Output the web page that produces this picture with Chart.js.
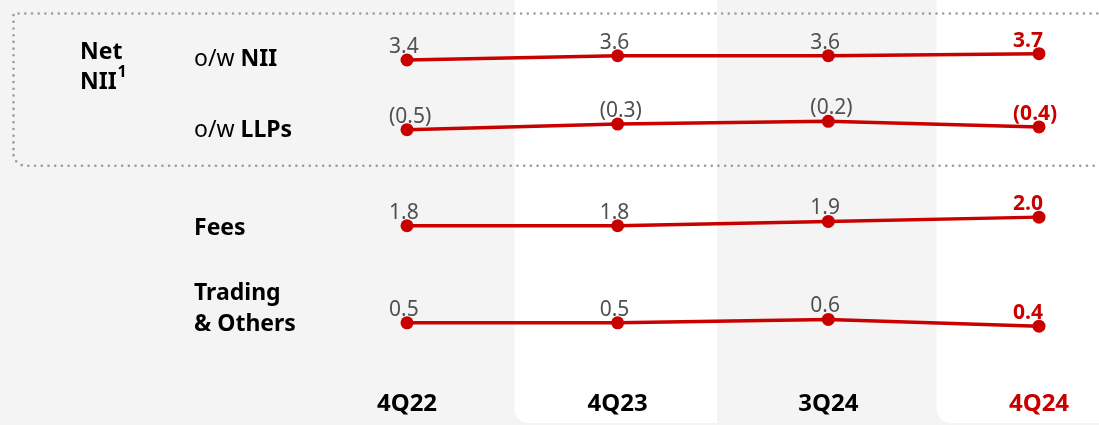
<!DOCTYPE html>
<html>
<head>
<meta charset="utf-8">
<script src="https://cdn.jsdelivr.net/npm/chart.js@4/dist/chart.umd.min.js"></script>
<style>
  html, body { margin: 0; padding: 0; background: #f4f4f4; }
  canvas { display: block; }
</style>
</head>
<body>
<canvas id="revenueChart" width="1099" height="425"></canvas>
<script>
// Datos del gráfico
const quarters = ["4Q22", "4Q23", "3Q24", "4Q24"];
const niiValues = [3.4, 3.6, 3.6, 3.7];
const llpValues = [-0.5, -0.3, -0.2, -0.4];
const feesValues = [1.8, 1.8, 1.9, 2.0];
const tradingValues = [0.5, 0.5, 0.6, 0.4];

const COLORS = {
    red: "#c80000",
    label: "#505050",
    text: "#000000",
    bg: "#f4f4f4",
    panel: "#ffffff",
    dots: "#9a9a9a"
};

const FONT = "'Noto Sans', 'Open Sans', sans-serif";
const AREA_TOP = 0;
const AREA_BOTTOM = 370;
const X_AXIS_HEIGHT = 425 - AREA_BOTTOM;

// Cada fila tiene su propio eje oculto: valor de referencia, pixel y escala
function rowAxis(refValue, refPx, pxPerUnit) {
    const max = refValue + (refPx - AREA_TOP) / pxPerUnit;
    const min = max - (AREA_BOTTOM - AREA_TOP) / pxPerUnit;
    return { display: false, min: min, max: max };
}

function fmt(v) {
    const s = Math.abs(v).toFixed(1);
    return v < 0 ? "(" + s + ")" : s;
}

function makeSet(values, axisId) {
    return {
        data: values,
        yAxisID: axisId,
        borderColor: COLORS.red,
        backgroundColor: COLORS.red,
        borderWidth: 3.5,
        pointRadius: 6.5,
        pointHoverRadius: 6.5,
        pointBackgroundColor: COLORS.red,
        pointBorderWidth: 0,
        tension: 0,
        clip: false,
        fill: false
    };
}

// Fondo gris, paneles blancos y recuadro punteado
const backgroundPlugin = {
    id: "backgroundPlugin",
    beforeDraw(chart) {
        const ctx = chart.ctx;
        const x = chart.scales.x;
        const W = chart.width, H = chart.height;
        ctx.save();
        ctx.fillStyle = COLORS.bg;
        ctx.fillRect(0, 0, W, H);

        const px = quarters.map((q, i) => x.getPixelForValue(i));
        const mid = i => (px[i] + px[i + 1]) / 2;
        ctx.fillStyle = COLORS.panel;
        [[mid(0) + 2, mid(1) - 6], [mid(2) + 3, W + 20]].forEach(([l, r]) => {
            ctx.beginPath();
            ctx.roundRect(l, -20, r - l, 443, [0, 0, 0, 14]);
            ctx.fill();
        });

        // recuadro punteado (Net NII)
        ctx.strokeStyle = COLORS.dots;
        ctx.lineWidth = 2.6;
        ctx.lineCap = "round";
        ctx.setLineDash([0, 6.7]);
        ctx.beginPath();
        ctx.moveTo(W + 5, 13.5);
        ctx.lineTo(13.5, 13.5);
        ctx.lineTo(13.5, 154);
        ctx.arcTo(13.5, 165.7, 25.5, 165.7, 12);
        ctx.lineTo(W + 5, 165.7);
        ctx.stroke();
        ctx.restore();
    }
};

// Etiquetas de filas y valores
const labelsPlugin = {
    id: "labelsPlugin",
    afterDatasetsDraw(chart) {
        const ctx = chart.ctx;
        ctx.save();
        ctx.textBaseline = "alphabetic";
        ctx.textAlign = "left";

        chart.data.datasets.forEach((ds, di) => {
            const meta = chart.getDatasetMeta(di);
            meta.data.forEach((pt, i) => {
                const last = i === ds.data.length - 1;
                ctx.font = (last ? "bold " : "") + "21px " + FONT;
                ctx.fillStyle = last ? COLORS.red : COLORS.label;
                ctx.fillText(fmt(ds.data[i]), pt.x - (last ? 26 : 18), pt.y - 7);
            });
        });

        ctx.fillStyle = COLORS.text;
        const bold = "bold 23px " + FONT;
        const reg = "23px " + FONT;

        ctx.font = bold;
        ctx.fillText("Net", 80, 59);
        ctx.fillText("NII", 80, 88.5);
        const w = ctx.measureText("NII").width;
        ctx.font = "bold 16px " + FONT;
        ctx.fillText("1", 80 + w + 1, 77);

        const mixed = (a, b, x, y) => {
            ctx.font = reg;
            ctx.fillText(a, x, y);
            const aw = ctx.measureText(a).width;
            ctx.font = bold;
            ctx.fillText(b, x + aw, y);
        };
        mixed("o/w ", "NII", 194, 65.5);
        mixed("o/w ", "LLPs", 194, 137);

        ctx.font = bold;
        ctx.fillText("Fees", 194, 235);
        ctx.fillText("Trading", 194, 300);
        ctx.fillText("& Others", 194, 331);
        ctx.restore();
    }
};

document.addEventListener("DOMContentLoaded", function () {
    const ctx = document.getElementById("revenueChart");

    new Chart(ctx, {
        type: "line",
        data: {
            labels: quarters,
            datasets: [
                makeSet(niiValues, "yNii"),
                makeSet(llpValues, "yLlp"),
                makeSet(feesValues, "yFees"),
                makeSet(tradingValues, "yTrading")
            ]
        },
        options: {
            responsive: false,
            devicePixelRatio: 1,
            animation: false,
            layout: {
                autoPadding: false,
                padding: { left: 407, right: 60, top: AREA_TOP, bottom: 0 }
            },
            scales: {
                x: {
                    type: "category",
                    offset: false,
                    grid: { display: false, drawTicks: false },
                    border: { display: false },
                    afterFit: scale => { scale.height = X_AXIS_HEIGHT; },
                    ticks: {
                        padding: 20,
                        font: { family: FONT, size: 24, weight: "bold" },
                        color: c => c.index === quarters.length - 1 ? COLORS.red : COLORS.text
                    }
                },
                yNii: rowAxis(3.575, 56.3, 21),
                yLlp: rowAxis(-0.35, 125.5, 28),
                yFees: rowAxis(1.875, 222.5, 43),
                yTrading: rowAxis(0.5, 322.8, 33.5)
            },
            plugins: {
                legend: { display: false },
                tooltip: { enabled: false }
            }
        },
        plugins: [backgroundPlugin, labelsPlugin]
    });
});
</script>
</body>
</html>
